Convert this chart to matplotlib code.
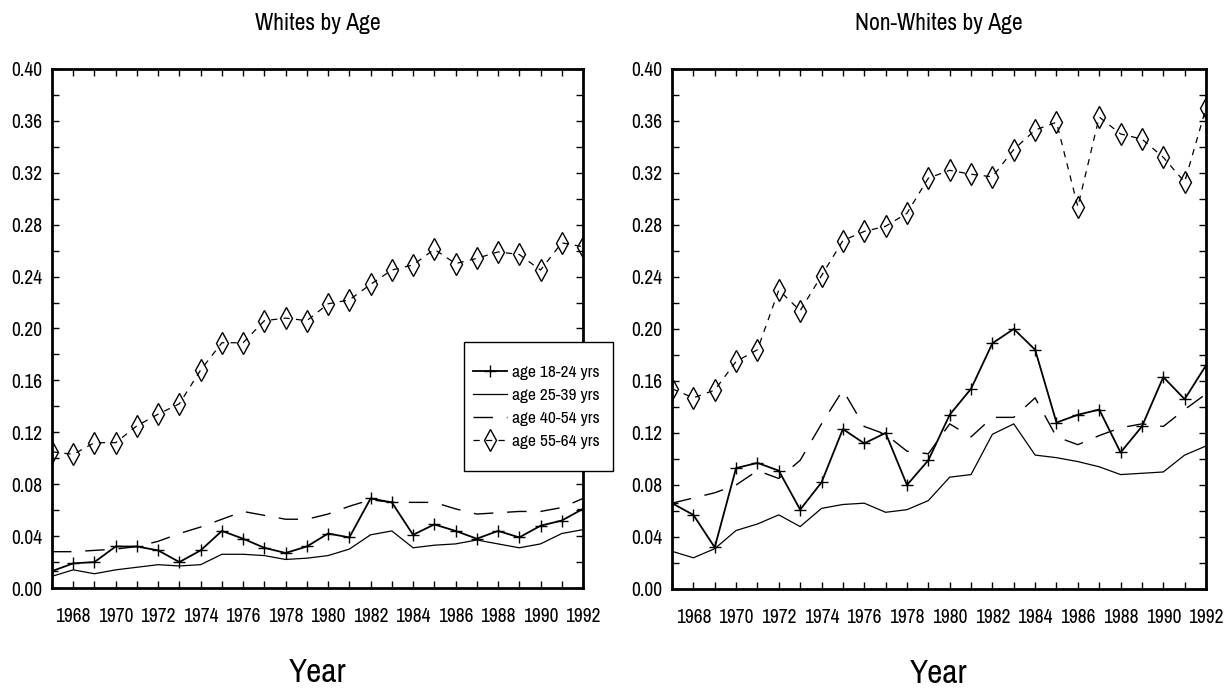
import numpy as np
import matplotlib
matplotlib.use("Agg")
import matplotlib.pyplot as plt
from matplotlib import font_manager
from matplotlib.ticker import MultipleLocator, FormatStrFormatter
from matplotlib.legend_handler import HandlerLine2D

years = list(range(1967, 1993))

# Blancs
white_18_24 = [0.013, 0.019, 0.020, 0.032, 0.032, 0.029, 0.020, 0.029, 0.044, 0.038, 0.031, 0.027, 0.032,
               0.042, 0.039, 0.069, 0.066, 0.041, 0.049, 0.044, 0.038, 0.044, 0.039, 0.048, 0.052, 0.061]
white_25_39 = [0.009, 0.014, 0.011, 0.014, 0.016, 0.018, 0.017, 0.018, 0.026, 0.026, 0.025, 0.022, 0.023,
               0.025, 0.030, 0.041, 0.044, 0.031, 0.033, 0.034, 0.037, 0.034, 0.031, 0.034, 0.042, 0.045]
white_40_54 = [0.028, 0.028, 0.029, 0.030, 0.032, 0.036, 0.042, 0.047, 0.053, 0.059, 0.056, 0.053, 0.053,
               0.057, 0.063, 0.068, 0.066, 0.066, 0.066, 0.061, 0.057, 0.058, 0.059, 0.059, 0.062, 0.069]
white_55_64 = [0.105, 0.103, 0.112, 0.112, 0.125, 0.134, 0.142, 0.168, 0.189, 0.189, 0.206, 0.208, 0.206,
               0.219, 0.222, 0.234, 0.245, 0.249, 0.261, 0.250, 0.254, 0.259, 0.257, 0.245, 0.266, 0.263]

# Non-blancs
nonwhite_18_24 = [0.066, 0.057, 0.032, 0.093, 0.097, 0.091, 0.061, 0.082, 0.123, 0.112, 0.120, 0.080, 0.099,
                  0.134, 0.154, 0.189, 0.200, 0.184, 0.128, 0.134, 0.138, 0.105, 0.125, 0.163, 0.146, 0.172]
nonwhite_25_39 = [0.029, 0.024, 0.031, 0.045, 0.050, 0.057, 0.048, 0.062, 0.065, 0.066, 0.059, 0.061, 0.068,
                  0.086, 0.088, 0.119, 0.127, 0.103, 0.101, 0.098, 0.094, 0.088, 0.089, 0.090, 0.103, 0.110]
nonwhite_40_54 = [0.066, 0.070, 0.074, 0.080, 0.091, 0.085, 0.099, 0.127, 0.153, 0.125, 0.119, 0.106, 0.104,
                  0.127, 0.117, 0.132, 0.132, 0.147, 0.117, 0.111, 0.118, 0.124, 0.127, 0.125, 0.138, 0.150]
nonwhite_55_64 = [0.154, 0.147, 0.153, 0.175, 0.184, 0.230, 0.214, 0.241, 0.268, 0.275, 0.279, 0.289, 0.316,
                  0.322, 0.319, 0.317, 0.338, 0.353, 0.359, 0.294, 0.363, 0.350, 0.346, 0.332, 0.313, 0.370]

labels = ['age 18-24 yrs', 'age 25-39 yrs', 'age 40-54 yrs', 'age 55-64 yrs']
titles = ['Whites by Age', 'Non-Whites by Age']

# chercher une police etroite si elle existe
fam, stretch, narrow = 'Liberation Sans', 'normal', False
available = [(f.name, f.stretch) for f in font_manager.fontManager.ttflist]
for name, st in available:
    if 'Narrow' in name or 'Condensed' in name:
        fam, stretch, narrow = name, 'normal', True
        break
if not narrow:
    for name, st in available:
        if st in ('condensed', 'semi-condensed', 'extra-condensed') and name in ('DejaVu Sans', 'Noto Sans', 'Open Sans', 'Roboto'):
            fam, stretch, narrow = name, st, True
            break

plt.rcParams['font.family'] = [fam, 'DejaVu Sans']
plt.rcParams['font.stretch'] = stretch

k = 1.0 if narrow else 0.85   # reduire si pas de police etroite


class LeftMarkerHandler(HandlerLine2D):
    """Marqueur a gauche du trait, trait prolonge vers la gauche"""
    def get_xdata(self, legend, xdescent, ydescent, width, height, fontsize):
        ext = 0.8 * fontsize
        xdata = np.array([-xdescent - ext, -xdescent + width])
        return xdata, np.array([-xdescent - ext + 1.5])


def draw_panel(ax, s1, s2, s3, s4, title):
    ax.plot(years, s1, color='black', lw=1.3, marker='+', ms=9, mew=1.0, label=labels[0])
    ax.plot(years, s2, color='black', lw=0.9, label=labels[1])
    ax.plot(years, s3, color='black', lw=1.0, dashes=(14, 10), label=labels[2])
    ax.plot(years, s4, color='black', lw=0.9, dashes=(5, 5), marker='d', ms=11,
            mfc='none', mec='black', mew=1.0, label=labels[3])

    ax.set_xlim(1967, 1992)
    ax.set_ylim(0, 0.40)
    ax.xaxis.set_major_locator(MultipleLocator(2))
    ax.xaxis.set_minor_locator(MultipleLocator(1))
    ax.yaxis.set_major_locator(MultipleLocator(0.04))
    ax.yaxis.set_minor_locator(MultipleLocator(0.02))
    ax.yaxis.set_major_formatter(FormatStrFormatter('%.2f'))
    ax.set_xticks([y for y in years if y % 2 == 0])
    ax.tick_params(which='both', direction='in', top=True, right=True, length=5, width=1.0)
    ax.tick_params(axis='x', which='major', labelsize=14 * k, pad=14)
    ax.tick_params(axis='y', which='major', labelsize=14 * k, pad=7)
    for sp in ax.spines.values():
        sp.set_linewidth(2.0)

    ax.set_title(title, fontsize=17 * k, pad=28)
    ax.set_xlabel('Year', fontsize=24 * k, fontweight='light')
    ax.xaxis.set_label_coords(0.5, -0.135)


fig = plt.figure(figsize=(12.31, 6.94), dpi=100)
ax1 = fig.add_axes([0.0422, 0.1527, 0.4314, 0.748])
ax2 = fig.add_axes([0.5459, 0.1513, 0.4338, 0.7494])

draw_panel(ax1, white_18_24, white_25_39, white_40_54, white_55_64, titles[0])
draw_panel(ax2, nonwhite_18_24, nonwhite_25_39, nonwhite_40_54, nonwhite_55_64, titles[1])

# legende au niveau de la figure pour passer au-dessus des deux axes
lines = ax1.get_lines()
leg = fig.legend(lines, labels, loc='upper left', bbox_to_anchor=(0.377, 0.323, 0.121, 0.184),
                 mode='expand', fontsize=12.5 if narrow else 10,
                 handlelength=1.2, handletextpad=0.25, labelspacing=0.45,
                 borderpad=1.3, borderaxespad=0, numpoints=1, fancybox=False, framealpha=1,
                 edgecolor='black', handler_map={l: LeftMarkerHandler() for l in lines})
leg.get_frame().set_linewidth(1.0)

plt.savefig('out.png', dpi=100)
